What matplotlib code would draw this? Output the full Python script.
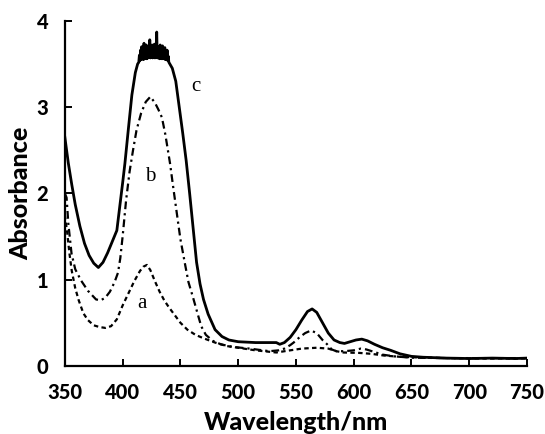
import matplotlib
matplotlib.use('Agg')
import matplotlib.pyplot as plt

# curve a (dashed)
a_wl = [350, 352, 354, 356, 359, 362, 366, 370, 375, 380, 385, 390, 395, 400, 405, 410, 415, 418,
        421, 424, 428, 432, 436, 440, 445, 450, 456, 463, 470, 480, 490, 500, 515, 533, 545, 555,
        568, 578, 585, 591, 605, 615, 626, 640, 650, 680, 720, 750]
a_abs = [1.75, 1.55, 1.3, 1.1, 0.9, 0.76, 0.61, 0.53, 0.47, 0.45, 0.44, 0.46, 0.54, 0.7, 0.84, 0.98, 1.1, 1.15,
         1.17, 1.11, 0.98, 0.86, 0.76, 0.68, 0.59, 0.5, 0.42, 0.36, 0.32, 0.27, 0.23, 0.21, 0.18, 0.155, 0.18, 0.2,
         0.21, 0.2, 0.17, 0.155, 0.15, 0.14, 0.12, 0.105, 0.1, 0.09, 0.085, 0.085]

# curve b (dash-dot)
b_wl = [350, 351.5, 353, 355.8, 359, 364, 370, 377, 381, 385, 389, 393, 396, 398, 400, 403, 406, 409, 412,
        416, 420, 424, 428, 431, 434, 437, 441, 444, 447, 450, 454, 457, 461, 465, 468, 472, 478, 485, 495,
        510, 527, 535, 540, 545, 548, 553, 558, 563, 568, 573, 577, 581, 585, 592, 600, 606, 611, 618, 625,
        635, 650, 680, 750]
b_abs = [2.0, 1.95, 1.65, 1.3, 1.12, 0.99, 0.87, 0.77, 0.76, 0.79, 0.86, 0.97, 1.08, 1.25, 1.5, 1.92, 2.25, 2.5, 2.73,
         2.93, 3.06, 3.12, 3.05, 2.97, 2.88, 2.68, 2.35, 2.05, 1.76, 1.47, 1.18, 0.97, 0.79, 0.6, 0.46, 0.36, 0.29, 0.25, 0.22,
         0.2, 0.17, 0.18, 0.2, 0.24, 0.27, 0.33, 0.38, 0.41, 0.38, 0.3, 0.25, 0.19, 0.17, 0.17, 0.18, 0.2, 0.19, 0.16, 0.13,
         0.11, 0.095, 0.09, 0.09]

# curve c (solid), noisy saturated top between 414 and 440 nm
c_wl = [350, 353, 356, 359, 363, 367, 371, 375, 379, 383, 387, 391, 395, 398, 400, 402, 405, 408, 411, 413,
        414.0, 414.5, 415.0, 415.5, 416.0, 416.5, 417.0, 417.5, 418.0, 418.5, 419.0, 419.5, 420.0, 420.5,
        421.0, 421.5, 422.0, 422.5, 423.0, 423.5, 424.0, 424.5, 425.0, 425.5, 426.0, 426.5, 427.0, 427.5,
        428.0, 428.5, 429.0, 429.5, 430.0, 430.5, 431.0, 431.5, 432.0, 432.5, 433.0, 433.5, 434.0, 434.5,
        435.0, 435.5, 436.0, 436.5, 437.0, 437.5, 438.0, 438.5, 439.0, 439.5, 440.0,
        443, 446, 449, 452, 455, 458, 461, 464, 467, 470, 474, 480, 486, 492, 500, 515, 533, 536, 540, 545,
        550, 555, 560, 564, 568, 573, 578, 583, 588, 592, 597, 602, 607, 612, 618, 625, 632, 640, 650, 660,
        680, 700, 720, 740, 750]
c_abs = [2.65, 2.35, 2.1, 1.87, 1.62, 1.42, 1.28, 1.19, 1.14, 1.2, 1.31, 1.44, 1.57, 1.9, 2.12, 2.35, 2.75, 3.14, 3.4, 3.5,
         3.52, 3.60, 3.54, 3.66, 3.55, 3.70, 3.56, 3.64, 3.55, 3.74, 3.56, 3.68, 3.57, 3.72,
         3.56, 3.66, 3.57, 3.70, 3.58, 3.78, 3.57, 3.69, 3.58, 3.72, 3.57, 3.67, 3.58, 3.73,
         3.57, 3.70, 3.58, 3.87, 3.57, 3.70, 3.57, 3.66, 3.56, 3.72, 3.57, 3.68, 3.56, 3.71,
         3.56, 3.65, 3.56, 3.69, 3.55, 3.63, 3.55, 3.66, 3.54, 3.59, 3.52,
         3.45, 3.3, 3.0, 2.7, 2.38, 2.0, 1.6, 1.2, 0.95, 0.77, 0.6, 0.42, 0.34, 0.3, 0.28, 0.27, 0.27, 0.25, 0.27, 0.33,
         0.42, 0.53, 0.63, 0.66, 0.62, 0.5, 0.38, 0.3, 0.27, 0.26, 0.28, 0.3, 0.31, 0.29, 0.25, 0.21, 0.18, 0.14, 0.11, 0.1,
         0.09, 0.085, 0.09, 0.085, 0.09]

x_ticks = [350, 400, 450, 500, 550, 600, 650, 700, 750]
y_ticks = [0, 1, 2, 3, 4]

fig = plt.figure(figsize=(5.45, 4.34), dpi=100)
ax = fig.add_axes([0.119, 0.157, 0.848, 0.795])

ax.plot(c_wl, c_abs, color='black', lw=2.0, linestyle='-')
ax.plot(b_wl, b_abs, color='black', lw=1.6, linestyle=(0, (3.5, 1.8, 1, 1.8)))
ax.plot(a_wl, a_abs, color='black', lw=1.6, linestyle=(0, (2, 1.5)))

ax.text(463, 3.24, 'c', fontsize=15, family='Liberation Serif', ha='center', va='center')
ax.text(423.5, 2.19, 'b', fontsize=15, family='Liberation Serif', ha='center', va='center')
ax.text(416.5, 0.72, 'a', fontsize=15, family='Liberation Serif', ha='center', va='center')

ax.set_xlim(350, 750)
ax.set_ylim(0, 4)
ax.set_xticks(x_ticks)
ax.set_yticks(y_ticks)
for s in ['top', 'right']:
    ax.spines[s].set_visible(False)
for s in ['left', 'bottom']:
    ax.spines[s].set_linewidth(1.6)

ax.tick_params(direction='in', length=5, width=1.4, pad=12)
for lab in ax.get_xticklabels() + ax.get_yticklabels():
    lab.set_fontfamily('Lato')
    lab.set_fontweight('black')
    lab.set_fontsize(14.5)

ax.set_xlabel('Wavelength/nm', fontsize=18, fontweight='black', family='Lato', labelpad=7)
ax.set_ylabel('Absorbance', fontsize=18, fontweight='black', family='Lato', labelpad=3)

fig.savefig('out.png', dpi=100)
